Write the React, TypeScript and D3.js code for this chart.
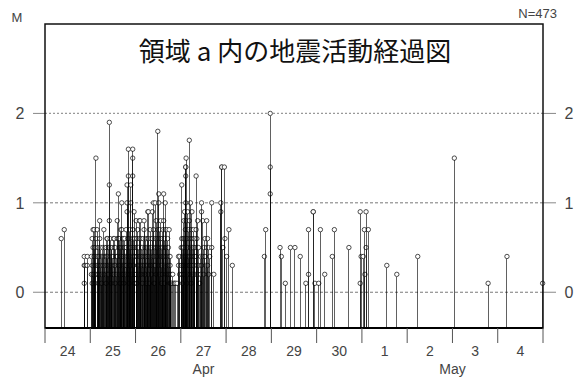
import React from "react";
import * as d3 from "d3";

// Each entry: [hourOfDay, ...magnitudes of events at that time]
const day24: number[][] = [
  [8.6, 0.6], [10.2, 0.7], [20.8, 0.4, 0.3, 0.1], [21.2, 0.3], [22.4, 0.4, 0.3],
];
const day25: number[][] = [
  [0.6, 0.4, 0.2], [1.0, 0.6, 0.3, 0.1], [1.5, 0.7, 0.5, 0.2], [2.0, 0.7, 0.4], [2.5, 0.5, 0.3, 0.1],
  [3.0, 1.5, 0.6, 0.2], [3.6, 0.7, 0.4, 0.3], [4.1, 0.5, 0.2], [4.5, 0.4, 0.3, 0.1], [5.0, 0.8, 0.6, 0.2],
  [5.5, 0.5, 0.3], [6.0, 0.4, 0.2, 0.1], [6.6, 0.5, 0.4, 0.3], [7.2, 0.7, 0.4, 0.2], [7.7, 0.5, 0.3],
  [8.1, 0.4, 0.2], [8.4, 0.5, 0.4, 0.1], [8.8, 0.6, 0.3], [9.1, 0.6, 0.4, 0.2], [9.6, 0.5, 0.3, 0.2],
  [10.1, 1.9, 1.2, 0.8, 0.5], [10.5, 0.6, 0.4, 0.3], [11.0, 0.5, 0.3, 0.1], [11.5, 0.5, 0.4, 0.2],
  [12.0, 0.4, 0.3], [12.4, 0.6, 0.2], [12.7, 0.6, 0.5, 0.3], [13.2, 0.5, 0.3, 0.1], [13.7, 0.4, 0.2],
  [14.3, 0.8, 0.6, 0.4], [14.9, 1.1, 0.6, 0.3], [15.3, 0.6, 0.5, 0.2], [15.8, 0.5, 0.3, 0.1],
  [16.2, 0.7, 0.4], [16.7, 1.0, 0.7, 0.5, 0.2], [17.1, 0.6, 0.3], [17.4, 0.6, 0.4, 0.2],
  [17.8, 0.5, 0.3, 0.1], [18.2, 0.6, 0.5, 0.3], [18.6, 0.4, 0.2], [19.0, 0.7, 0.5, 0.3],
  [19.5, 1.2, 1.0, 0.9, 0.4], [19.9, 0.6, 0.4, 0.2], [20.2, 1.6, 1.3, 0.6], [20.6, 0.5, 0.3, 0.1],
  [21.0, 0.7, 0.4, 0.2], [21.5, 1.2, 1.0, 0.5, 0.3], [22.0, 0.6, 0.4, 0.2], [22.5, 1.6, 1.5, 1.3, 0.7],
  [22.9, 0.6, 0.4, 0.3], [23.2, 0.9, 0.5, 0.2], [23.6, 0.6, 0.4, 0.1],
];
const day26: number[][] = [
  [0.3, 0.8, 0.5, 0.2], [0.7, 0.6, 0.4, 0.1], [1.1, 0.7, 0.5, 0.3], [1.6, 0.5, 0.3, 0.2],
  [2.0, 0.8, 0.6, 0.4], [2.4, 0.8, 0.3], [2.8, 0.6, 0.4, 0.2], [3.2, 0.5, 0.3], [3.6, 0.5, 0.4, 0.1],
  [4.0, 0.6, 0.3], [4.5, 0.8, 0.7, 0.4, 0.2], [4.9, 0.5, 0.3], [5.3, 0.6, 0.4, 0.2], [5.7, 0.5, 0.3, 0.1],
  [6.1, 0.6, 0.4], [6.5, 0.9, 0.5, 0.3], [6.8, 0.9, 0.6, 0.2], [7.2, 0.5, 0.4, 0.1], [7.7, 0.7, 0.5, 0.3],
  [8.1, 0.6, 0.3], [8.5, 0.5, 0.4, 0.2], [8.9, 0.9, 0.6, 0.3], [9.5, 1.0, 0.7, 0.4], [9.9, 0.5, 0.3, 0.1],
  [10.4, 1.0, 0.6, 0.3], [10.9, 0.8, 0.5, 0.2], [11.3, 0.6, 0.4], [11.8, 1.8, 0.7, 0.5],
  [12.3, 1.1, 1.0, 0.6, 0.3], [12.8, 0.7, 0.5, 0.2], [13.3, 0.8, 0.6, 0.4], [13.7, 0.5, 0.3, 0.1],
  [14.1, 0.6, 0.4, 0.2], [14.5, 0.7, 0.5], [14.9, 1.1, 0.8, 0.4], [15.3, 0.6, 0.3, 0.1],
  [15.7, 1.0, 0.7, 0.5], [16.1, 0.5, 0.4, 0.2], [16.5, 0.7, 0.5, 0.3], [17.0, 0.6, 0.4, 0.2],
  [17.4, 0.5, 0.3], [17.8, 0.7, 0.4, 0.2], [18.3, 0.4, 0.3, 0.1], [18.7, 0.2, 0.1], [19.2, 0.1],
  [19.7, 0.2], [20.2, 0.1], [20.7, 0.1], [21.2, 0.1], [22.0, 0.1], [22.8, 0.4, 0.3], [23.4, 0.4, 0.2],
];
const day27: number[][] = [
  [0.2, 0.5, 0.3], [0.5, 1.2, 0.6, 0.2], [0.9, 0.5, 0.4, 0.1], [1.2, 0.6, 0.3], [1.6, 0.8, 0.5, 0.2],
  [2.0, 0.9, 0.6, 0.4], [2.4, 0.7, 0.3], [2.6, 1.4, 1.4, 1.3, 1.0, 0.6], [2.8, 1.5, 0.8, 0.4],
  [3.2, 0.6, 0.3, 0.1], [3.6, 0.9, 0.5, 0.2], [4.0, 0.7, 0.4], [4.5, 1.7, 0.8, 0.3], [4.8, 0.6, 0.4, 0.2],
  [5.1, 1.0, 0.5], [5.5, 0.7, 0.3, 0.1], [5.9, 0.9, 0.6, 0.4], [6.3, 0.5, 0.2], [6.7, 0.7, 0.5, 0.3],
  [7.1, 0.6, 0.4], [7.5, 0.5, 0.2], [8.1, 1.3, 0.7, 0.4], [8.5, 0.6, 0.3], [8.9, 0.8, 0.5, 0.2],
  [9.4, 0.5, 0.3], [10.0, 0.1], [10.5, 0.4, 0.2], [11.0, 1.0, 0.9, 0.3], [11.6, 0.8, 0.4],
  [12.2, 0.5, 0.2], [12.8, 0.6, 0.4], [13.2, 0.3], [13.7, 0.8, 0.5], [14.2, 0.6, 0.3], [14.7, 0.5, 0.2],
  [15.3, 0.4], [16.4, 1.0, 0.5], [17.5, 0.2], [21.2, 1.0, 0.9], [21.7, 1.4, 1.4], [22.3, 0.5],
  [23.1, 1.4], [23.4, 0.6],
];
const day28: number[][] = [
  [0.3, 0.4], [1.5, 0.7], [3.3, 0.3], [20.3, 0.4], [21.0, 0.7], [23.4, 2.0, 1.4, 1.1],
];
const day29: number[][] = [
  [4.6, 0.5], [5.3, 0.4], [7.4, 0.1], [10.1, 0.5], [12.5, 0.5], [15.3, 0.4], [18.3, 0.1],
  [19.7, 0.2, 0.7], [22.2, 0.9, 0.9], [23.1, 0.1],
];
const day30: number[][] = [
  [1.1, 0.1], [2.0, 0.7], [4.3, 0.2], [8.3, 0.4], [9.4, 0.7], [17.1, 0.5], [23.1, 0.9, 0.1], [23.6, 0.4],
];
const may1: number[][] = [
  [0.7, 0.4], [1.3, 0.7], [1.6, 0.2], [2.2, 0.9, 0.5], [3.4, 0.7], [13.2, 0.3], [18.5, 0.2],
];
const may2: number[][] = [[5.6, 0.4]];
const may3: number[][] = [[1.0, 1.5], [18.9, 0.1]];
const may4: number[][] = [[4.9, 0.4], [23.8, 0.1]];

const dayLabels = ["24", "25", "26", "27", "28", "29", "30", "1", "2", "3", "4"];
const dayData = [day24, day25, day26, day27, day28, day29, day30, may1, may2, may3, may4];
const months = [
  { name: "Apr", from: 0, to: 7 },
  { name: "May", from: 7, to: 11 },
];
const magTicks = [0, 1, 2];
const title = "領域 a 内の地震活動経過図";
const countLabel = "N=473";

export default function App() {
  const left = 45, right = 543, top = 24, bottom = 328;
  const x = d3.scaleLinear().domain([0, 24 * dayData.length]).range([left, right]);
  const y = d3.scaleLinear().domain([-0.4, 3.0]).range([bottom, top]);

  const events: { t: number; m: number }[] = [];
  dayData.forEach((entries, di) => {
    entries.forEach((e) => {
      const [h, ...mags] = e;
      mags.forEach((m) => events.push({ t: di * 24 + h, m }));
    });
  });
  events.sort((a, b) => a.t - b.t);
  const r = 2.2;
  const font = "'Liberation Sans', 'DejaVu Sans', sans-serif";

  return (
    <svg width={580} height={381} style={{ position: "absolute", left: 0, top: 0, background: "#fff" }}>
      <rect width={580} height={381} fill="#fff" />
      {/* grid */}
      {magTicks.map((m) => (
        <g key={m}>
          <line x1={left} x2={right} y1={y(m)} y2={y(m)} stroke={m === 2 ? "#999" : "#555"}
            strokeWidth={m === 2 ? 1.2 : 0.8} strokeDasharray={m === 2 ? "2 2" : "3 2"} />
          <line x1={33} x2={left} y1={y(m)} y2={y(m)} stroke="#888" strokeWidth={1} />
          <line x1={right} x2={556} y1={y(m)} y2={y(m)} stroke="#888" strokeWidth={1} />
          <text x={20} y={y(m) + 6} textAnchor="middle" fontFamily={font} fontSize={16} fill="#444">{m}</text>
          <text x={569} y={y(m) + 6} textAnchor="middle" fontFamily={font} fontSize={16} fill="#444">{m}</text>
        </g>
      ))}
      {/* event circles */}
      {events.map((ev, i) => (
        <circle key={"c" + i} cx={x(ev.t)} cy={y(ev.m)} r={r} fill="#fff" stroke="#222" strokeWidth={0.8} />
      ))}
      {/* event stems */}
      {events.map((ev, i) => {
        const cx = x(ev.t);
        const cy = y(ev.m);
        return (
          <line key={"s" + i} x1={cx} x2={cx} y1={bottom} y2={cy + r} stroke="#000" strokeOpacity={0.62}
            strokeWidth={1} shapeRendering="crispEdges" />
        );
      })}
      {/* frame */}
      <rect x={left} y={top} width={right - left} height={bottom - top} fill="none" stroke="#111" strokeWidth={1.5} />
      <line x1={left} x2={right} y1={bottom} y2={bottom} stroke="#000" strokeWidth={2} />
      {/* day ticks */}
      {d3.range(dayData.length + 1).map((i) => (
        <line key={i} x1={x(i * 24)} x2={x(i * 24)} y1={bottom} y2={343} stroke="#555" strokeWidth={1} />
      ))}
      {dayLabels.map((d, i) => (
        <text key={d + i} x={x(i * 24 + 12)} y={356} textAnchor="middle" fontFamily={font} fontSize={14} fill="#444">{d}</text>
      ))}
      {months.map((mo) => (
        <text key={mo.name} x={x(((mo.from + mo.to) / 2) * 24)} y={374} textAnchor="middle" fontFamily={font} fontSize={14} fill="#444">{mo.name}</text>
      ))}
      <text x={17} y={22} textAnchor="middle" fontFamily={font} fontSize={13} fill="#444">M</text>
      <text x={557} y={18} textAnchor="end" fontFamily={font} fontSize={13} fill="#444">{countLabel}</text>
      <text x={295} y={61} textAnchor="middle" fontFamily="'Noto Sans CJK JP', sans-serif" fontSize={26} fill="#111">{title}</text>
    </svg>
  );
}
